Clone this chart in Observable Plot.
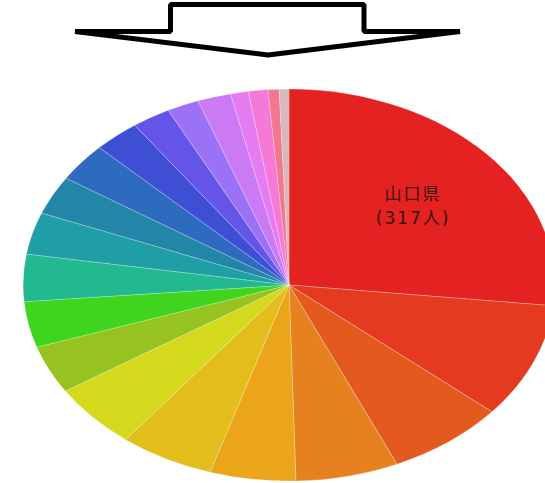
<!DOCTYPE html>
<html>
<head>
<meta charset="utf-8">
<script src="https://cdn.jsdelivr.net/npm/d3@7"></script>
<script src="https://cdn.jsdelivr.net/npm/@observablehq/plot@0.6"></script>
<style>
  body { margin: 0; background: #fff; }
  #chart svg { display: block; background: #fff; }
</style>
</head>
<body>
<div id="chart"></div>
<script>
// ---- data ----
const categories = ["山口県", "区分2", "区分3", "区分4", "区分5", "区分6", "区分7", "区分8", "区分9", "区分10",
  "区分11", "区分12", "区分13", "区分14", "区分15", "区分16", "区分17", "区分18", "区分19", "区分20", "区分21"];
const counts = [317, 113, 85, 74, 62, 68, 64, 47, 45, 46, 41, 38, 38, 33, 28, 23, 24, 13, 14, 8, 7];
const sliceColors = ["#e52222", "#e43a1f", "#e45a1e", "#e5821f", "#eba51b", "#e3bd1c", "#d4d91e", "#96c31f",
  "#3fd41e", "#22b890", "#1f9ea5", "#2386a8", "#2c6bbd", "#3e4fd6", "#6554e8", "#9b72f5", "#cc79f5",
  "#e67cf2", "#f57ad8", "#f27890", "#d9b8bc"];
const labelLines = ["山口県", "(317人)"];

// ---- scales & layout ----
const color = Plot.scale({color: {type: "ordinal", domain: categories, range: sliceColors}});
const arcs = d3.pie().sort(null).value(d => d)(counts);
const first = arcs[0];
const midAngle = (first.startAngle + first.endAngle) / 2;
const labelRadius = 0.62;

function arrowMark() {
  const pts = [[75, 31.5], [170.5, 31.5], [170.5, 4.5], [364, 4.5], [364, 31.5], [460, 31.5], [268, 55]];
  const g = d3.create("svg:g");
  g.append("path")
    .attr("d", d3.line()(pts) + "Z")
    .attr("fill", "none")
    .attr("stroke", "#000")
    .attr("stroke-width", 5)
    .attr("stroke-linejoin", "bevel");
  return g.node();
}

function pieMark(index, scales) {
  const {x, y} = scales;
  const cx = x(0), cy = y(0), rx = x(1) - cx, ry = cy - y(1);
  const g = d3.create("svg:g")
    .attr("transform", `translate(${cx},${cy}) scale(${rx},${ry})`);
  const arc = d3.arc().innerRadius(0).outerRadius(1);
  g.selectAll("path")
    .data(arcs)
    .join("path")
    .attr("d", arc)
    .attr("fill", d => color.apply(categories[d.index]))
    .attr("stroke", "#fff")
    .attr("stroke-opacity", 0.3)
    .attr("stroke-width", 0.8)
    .attr("vector-effect", "non-scaling-stroke");
  return g.node();
}

const chart = Plot.plot({
  width: 545,
  height: 483,
  margin: 0,
  style: {background: "#fff"},
  x: {domain: [-1, 1], range: [23, 555], axis: null},
  y: {domain: [-1, 1], range: [481, 89], axis: null},
  marks: [
    arrowMark,
    pieMark,
    Plot.text([first], {
      x: () => labelRadius * Math.sin(midAngle),
      y: () => labelRadius * Math.cos(midAngle),
      text: () => labelLines.join("\n"),
      lineAnchor: "middle",
      lineHeight: 1.4,
      fontSize: 17,
      fontFamily: "'DejaVu Sans', 'Noto Sans CJK JP', sans-serif",
      fill: "#3a1212",
      dx: 1
    })
  ]
});
d3.select(chart).selectAll("text").attr("letter-spacing", 2);
document.getElementById("chart").appendChild(chart);
</script>
</body>
</html>
